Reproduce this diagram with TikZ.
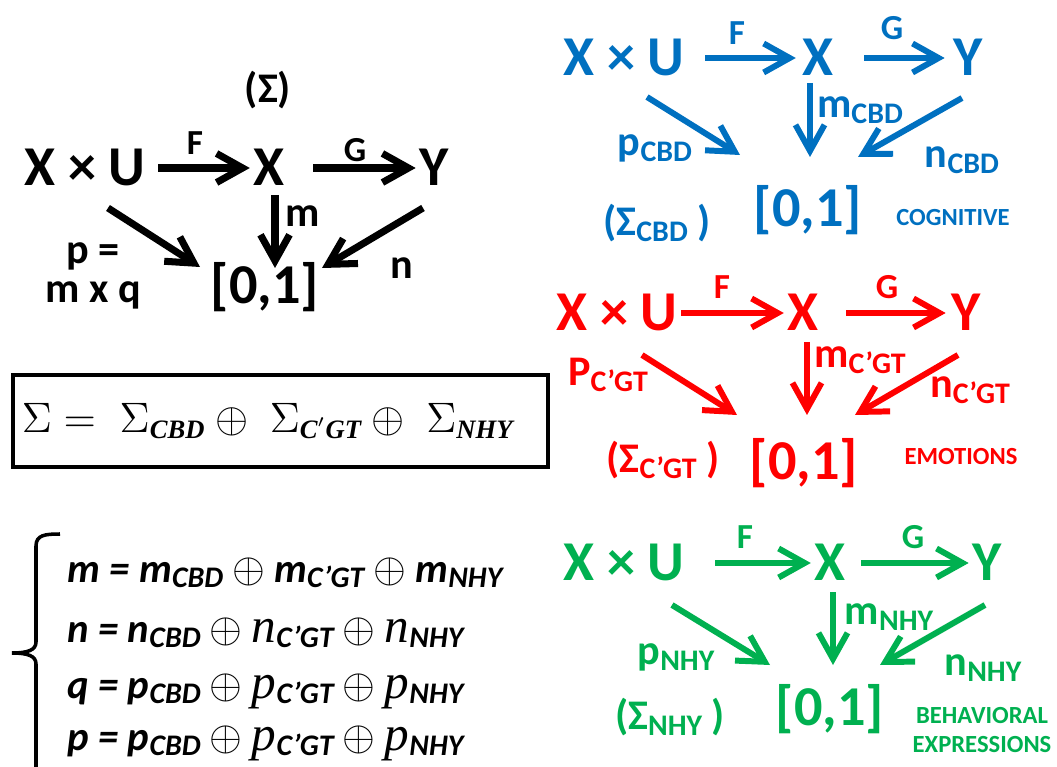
\documentclass[tikz,border=0pt]{standalone}
\usepackage{fontspec}
\setmainfont{Carlito}
\newfontfamily\serifit{Liberation Serif}
\usetikzlibrary{arrows.meta,positioning}
\definecolor{cbd}{HTML}{0070C0}
\definecolor{cgt}{HTML}{FF0000}
\definecolor{nhy}{HTML}{00B050}
\newcommand{\sbs}[1]{\raisebox{-0.3ex}{\fontsize{8.5}{9}\selectfont #1}}
\newcommand{\serp}[1]{{\serifit\mdseries\itshape\fontsize{14}{14}\selectfont #1}}
\newcommand{\msub}[1]{\mbox{\serifit\bfseries\itshape\fontsize{9}{9}\selectfont #1}}
\tikzset{
  obj/.style = {font=\fontsize{16}{16}\selectfont\bfseries, inner sep=0pt, text height=10.1pt, text depth=0pt},
  iv/.style = {font=\fontsize{16}{16}\selectfont\bfseries, inner sep=0pt},
  fg/.style = {font=\fontsize{10}{10}\selectfont\bfseries, inner sep=0pt},
  lbl/.style = {font=\fontsize{12}{11}\selectfont\bfseries, inner sep=0pt, align=center},
  tag/.style = {font=\fontsize{7}{8}\selectfont\bfseries, inner sep=0pt, align=center},
  eq/.style = {font=\fontsize{11.6}{12}\selectfont\bfseries\itshape, inner sep=0pt, anchor=base west},
  arrow/.style = {line width=1.7pt, -{Straight Barb[length=2.6mm, width=2.9mm]}}
}
\begin{document}
\begin{tikzpicture}[x=0.01cm, y=-0.01cm]
\useasboundingbox (0,0) rectangle (1057,767);
% whole system
\node[lbl] (sig) at (268,90) {(Σ)};
\node[obj] (xu) at (85,168) {X × U};
\node[obj] (x) at (269,168) {X};
\node[obj] (y) at (434,168) {Y};
\node[iv] (iv) at (265,287) {[0,1]};
\node[fg] (f) at (195,143) {F};
\node[fg] (g) at (355,150) {G};
\node[lbl] (m) at (303,216) {m};
\node[lbl] (p) at (93,276) {p =\\m x q};
\node[lbl] (n) at (402,268) {n};
\draw[arrow, line width=2pt, shorten <=1.2mm, shorten >=0.3mm] (xu) -- (x);
\draw[arrow, line width=2pt, shorten <=2.8mm, shorten >=0.3mm] (x) -- (y);
\draw[arrow, line width=2pt] ([shift={(6,27)}]x.center) -- ([shift={(10,-19)}]iv.center);
\draw[arrow, line width=2pt] ([shift={(23,40)}]xu.center) -- ([shift={(-65,-20)}]iv.center);
\draw[arrow, line width=2pt] ([shift={(-11,40)}]y.center) -- ([shift={(57,-19)}]iv.center);
% decomposition
\node[draw, line width=1pt, minimum width=5.35cm, minimum height=0.92cm, text width=5.17cm, inner xsep=0.9mm, align=left, font=\fontsize{14.4}{14.4}\selectfont] (sum) at (280.5,421) {\scalebox{0.84}{$\Sigma =\; \Sigma_{\msub{CBD}} \oplus\; \Sigma_{\msub{C$'$GT}} \oplus\; \Sigma_{\msub{NHY}}$}};
\draw[line width=1pt] (60,534) .. controls (45,534) and (36,535) .. (36,546) -- (36,642) .. controls (36,650) and (28,653) .. (12,653) .. controls (28,653) and (36,656) .. (36,664) -- (36,767);
\node[eq] (eqm) at (67,582) {m = m\sbs{CBD} $\oplus$ m\sbs{C’GT} $\oplus$ m\sbs{NHY}};
\node[eq] (eqn) at (67,642) {n = n\sbs{CBD} $\oplus$ \serp{n}\sbs{C’GT} $\oplus$ \serp{n}\sbs{NHY}};
\node[eq] (eqq) at (67,698) {q = p\sbs{CBD} $\oplus$ \serp{p}\sbs{C’GT} $\oplus$ \serp{p}\sbs{NHY}};
\node[eq] (eqp) at (67,750) {p = p\sbs{CBD} $\oplus$ \serp{p}\sbs{C’GT} $\oplus$ \serp{p}\sbs{NHY}};
% cognitive
\node[obj, cbd] (xuc) at (624,58) {X × U};
\node[obj, cbd] (xc) at (818,58) {X};
\node[obj, cbd] (yc) at (968,58) {Y};
\node[iv, cbd] (ivc) at (808,210) {[0,1]};
\node[fg, cbd] (fc) at (737,33) {F};
\node[fg, cbd] (gc) at (892,28) {G};
\node[lbl, cbd] (mc) at (860,110) {m\sbs{CBD}};
\node[lbl, cbd] (pc) at (655,148) {p\sbs{CBD}};
\node[lbl, cbd] (nc) at (962,160) {n\sbs{CBD}};
\node[lbl, cbd] (sigc) at (657,223) {(Σ\sbs{CBD} )};
\node[tag, cbd] (tc) at (953,218) {COGNITIVE};
\draw[arrow, cbd, shorten <=2mm, shorten >=0.6mm] (xuc) -- (xc);
\draw[arrow, cbd, shorten <=3mm, shorten >=0.8mm] (xc) -- (yc);
\draw[arrow, cbd] ([shift={(-8,25)}]xc.center) -- ([shift={(2,-53)}]ivc.center);
\draw[arrow, cbd] ([shift={(23,39)}]xuc.center) -- ([shift={(-68,-55)}]ivc.center);
\draw[arrow, cbd] ([shift={(-6,40)}]yc.center) -- ([shift={(50,-53)}]ivc.center);
% emotions
\node[obj, cgt] (xue) at (617,313) {X × U};
\node[obj, cgt] (xe) at (803,313) {X};
\node[obj, cgt] (ye) at (966,313) {Y};
\node[iv, cgt] (ive) at (804,463) {[0,1]};
\node[fg, cgt] (fe) at (722,287) {F};
\node[fg, cgt] (ge) at (887,287) {G};
\node[lbl, cgt] (me) at (860,360) {m\sbs{C’GT}};
\node[lbl, cgt] (pe) at (608,375) {P\sbs{C’GT}};
\node[lbl, cgt] (ne) at (970,390) {n\sbs{C’GT}};
\node[lbl, cgt] (sige) at (663,460) {(Σ\sbs{C’GT} )};
\node[tag, cgt] (te) at (961,457) {EMOTIONS};
\draw[arrow, cgt, shorten <=0.3mm, shorten >=0.3mm] (xue) -- (xe);
\draw[arrow, cgt, shorten <=2.7mm, shorten >=0.5mm] (xe) -- (ye);
\draw[arrow, cgt] ([shift={(4,29)}]xe.center) -- ([shift={(3,-48)}]ive.center);
\draw[arrow, cgt] ([shift={(25,42)}]xue.center) -- ([shift={(-67,-48)}]ive.center);
\draw[arrow, cgt] ([shift={(-8,42)}]ye.center) -- ([shift={(51,-48)}]ive.center);
% behavioral expressions
\node[obj, nhy] (xub) at (624,563) {X × U};
\node[obj, nhy] (xb) at (830,563) {X};
\node[obj, nhy] (yb) at (987,563) {Y};
\node[iv, nhy] (ivb) at (830,709) {[0,1]};
\node[fg, nhy] (fb) at (745,537) {F};
\node[fg, nhy] (gb) at (913,537) {G};
\node[lbl, nhy] (mb) at (889,617) {m\sbs{NHY}};
\node[lbl, nhy] (pb) at (676,657) {p\sbs{NHY}};
\node[lbl, nhy] (nb) at (983,668) {n\sbs{NHY}};
\node[lbl, nhy] (sigb) at (670,717) {(Σ\sbs{NHY} )};
\node[tag, nhy] (tb) at (982,730) {BEHAVIORAL\\EXPRESSIONS};
\draw[arrow, nhy, shorten <=3mm, shorten >=0.3mm] (xub) -- (xb);
\draw[arrow, nhy, shorten <=1.5mm, shorten >=0.3mm] (xb) -- (yb);
\draw[arrow, nhy] ([shift={(3,29)}]xb.center) -- ([shift={(3,-44)}]ivb.center);
\draw[arrow, nhy] ([shift={(48,42)}]xub.center) -- ([shift={(-60,-44)}]ivb.center);
\draw[arrow, nhy] ([shift={(-2,42)}]yb.center) -- ([shift={(50,-44)}]ivb.center);
\end{tikzpicture}
\end{document}
